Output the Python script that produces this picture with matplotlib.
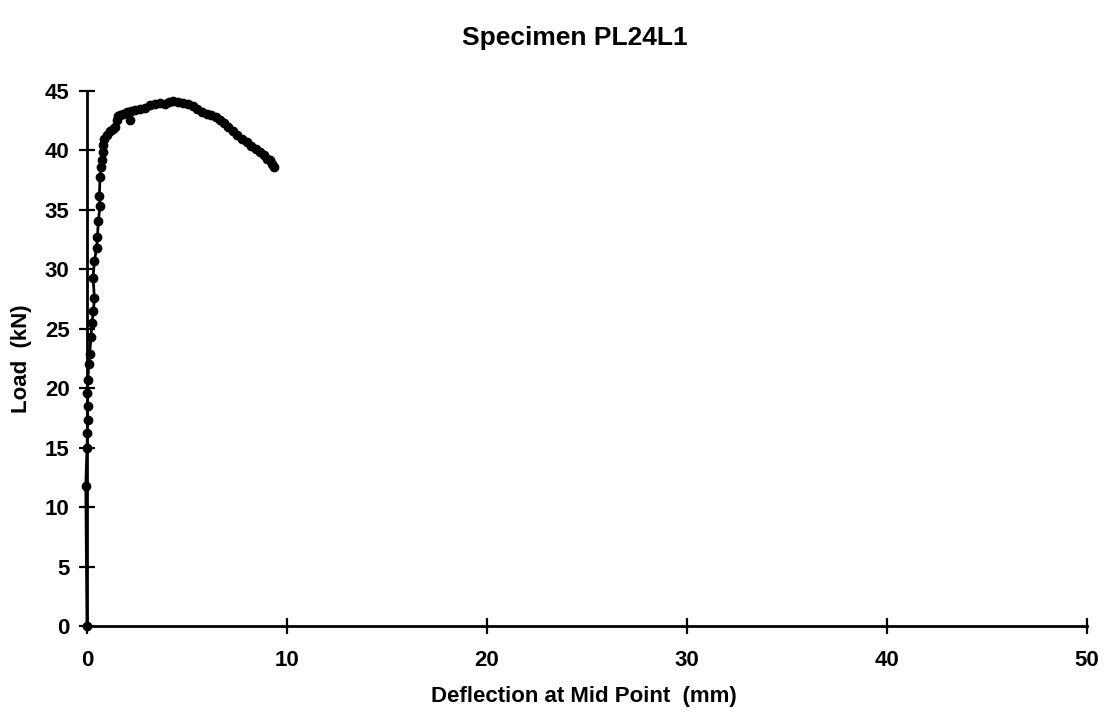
import matplotlib.pyplot as plt
import numpy as np

# load-deflection readings for specimen PL24L1
deflection = [0.00, -0.06, 0.00, 0.02, 0.03, 0.04, 0.02, 0.05, 0.08, 0.13,
              0.20, 0.25, 0.32, 0.37, 0.30, 0.37, 0.48, 0.52, 0.57, 0.65,
              0.62, 0.65, 0.68, 0.73, 0.80, 0.82, 0.87, 1.00, 1.15, 1.30,
              1.40, 1.48, 1.55, 1.65, 1.80, 1.98, 2.15, 2.20, 2.40, 2.65,
              2.90, 3.15, 3.40, 3.65, 3.90, 4.10, 4.30, 4.55, 4.80, 5.05,
              5.30, 5.50, 5.75, 6.00, 6.20, 6.45, 6.65, 6.85, 7.05, 7.30,
              7.50, 7.75, 8.00, 8.20, 8.45, 8.65, 8.85, 9.00, 9.15, 9.25,
              9.35]
load = [0.0, 11.8, 15.0, 16.2, 17.3, 18.5, 19.6, 20.7, 22.0, 22.9,
        24.3, 25.5, 26.5, 27.6, 29.3, 30.7, 31.8, 32.7, 34.1, 35.3,
        36.2, 37.8, 38.6, 39.2, 39.9, 40.5, 41.0, 41.3, 41.6, 41.8,
        42.0, 42.6, 42.9, 43.0, 43.1, 43.2, 42.6, 43.3, 43.4, 43.5,
        43.6, 43.8, 43.9, 44.0, 43.9, 44.1, 44.2, 44.1, 44.0, 43.9,
        43.7, 43.5, 43.2, 43.1, 43.0, 42.8, 42.6, 42.3, 42.0, 41.6,
        41.3, 41.0, 40.7, 40.4, 40.1, 39.9, 39.6, 39.3, 39.2, 38.9,
        38.6]

x_ticks = [0, 10, 20, 30, 40, 50]
y_ticks = [0, 5, 10, 15, 20, 25, 30, 35, 40, 45]

plt.rcParams['font.family'] = ['Liberation Sans', 'DejaVu Sans']
plt.rcParams['font.weight'] = 'bold'

fig = plt.figure(figsize=(11.06, 7.16), dpi=100)
ax = fig.add_axes([87/1106, 1 - 626/716, 1000/1106, 535/716])

ax.plot(deflection, load, color='black', lw=2.0, marker='o', ms=6,
        clip_on=False, zorder=3)

ax.set_xlim(0, 50)
ax.set_ylim(0, 45)
ax.set_xticks(x_ticks)
ax.set_yticks(y_ticks)
ax.tick_params(direction='inout', length=11, width=1.6, labelsize=16)
ax.tick_params(axis='x', pad=12)
ax.tick_params(axis='y', pad=7)
for lab in ax.get_xticklabels() + ax.get_yticklabels():
    lab.set_fontweight('bold')

for side in ['top', 'right']:
    ax.spines[side].set_visible(False)
for side in ['left', 'bottom']:
    ax.spines[side].set_linewidth(2.0)

ax.set_xlabel('Deflection at Mid Point  (mm)', fontsize=16,
              fontweight='bold', va='center')
ax.xaxis.set_label_coords(0.497, -0.1327)
ax.set_ylabel('Load  (kN)', fontsize=16, fontweight='bold', va='center')
ax.yaxis.set_label_coords(-0.065, 0.5)
fig.text(575/1106, 1 - 38/716, 'Specimen PL24L1', ha='center', va='center',
         fontsize=19, fontweight='bold')

fig.savefig('out.png', dpi=100)
